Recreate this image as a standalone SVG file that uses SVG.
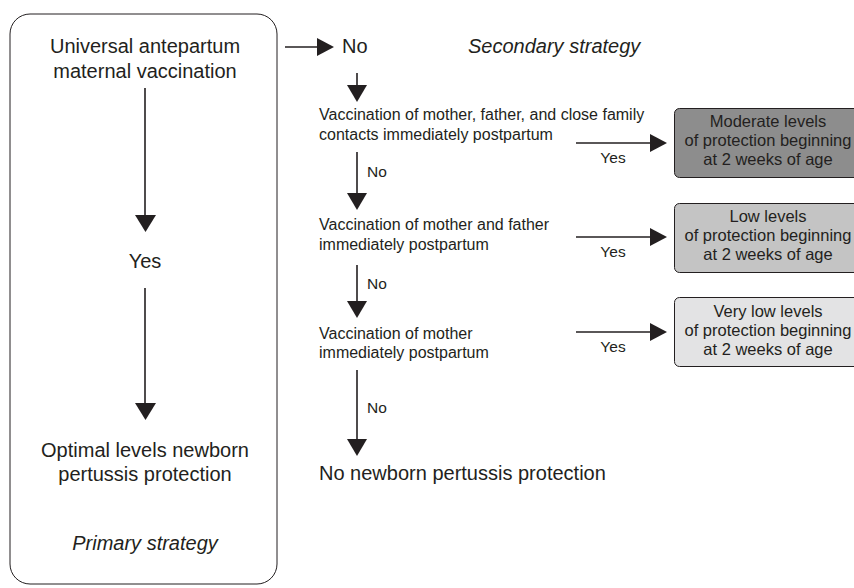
<svg xmlns="http://www.w3.org/2000/svg" width="854" height="588" viewBox="0 0 854 588">
<defs>
<style>
text{font-family:"Liberation Sans",Arial,sans-serif;fill:#231f20}
.big{font-size:20px}
.sm{font-size:16px}
.bx{font-size:16.5px}
.lb{font-size:15.5px}
.c{text-anchor:middle}
.it{font-style:italic}
.ln{stroke:#231f20;stroke-width:1.6;fill:none}
.hd{fill:#231f20}
.box{stroke:#231f20;stroke-width:1}
</style>
</defs>
<rect width="854" height="588" fill="#fff"/>

<g id="primary">
<rect x="10" y="14" width="267" height="570" rx="20" ry="20" fill="none" stroke="#231f20" stroke-width="1"/>
<text class="big c" x="145" y="53">Universal antepartum</text>
<text class="big c" x="145" y="78">maternal vaccination</text>
<text class="big c" x="145" y="268">Yes</text>
<text class="big c" x="145" y="457">Optimal levels newborn</text>
<text class="big c" x="145" y="481">pertussis protection</text>
<text class="big c it" x="145" y="550">Primary strategy</text>
</g>

<g id="secondary-labels">
<text class="big" x="342" y="53">No</text>
<text class="big it" x="468" y="53">Secondary strategy</text>
</g>

<g id="step1">
<text class="sm" x="319" y="120">Vaccination of mother, father, and close family</text>
<text class="sm" x="319" y="140">contacts immediately postpartum</text>
</g>
<g id="step2">
<text class="sm" x="319" y="230">Vaccination of mother and father</text>
<text class="sm" x="319" y="250">immediately postpartum</text>
</g>
<g id="step3">
<text class="sm" x="319" y="339">Vaccination of mother</text>
<text class="sm" x="319" y="358">immediately postpartum</text>
</g>
<g id="none">
<text class="big" x="319" y="480">No newborn pertussis protection</text>
</g>

<g id="out1">
<rect class="box" x="674.500" y="108.500" width="190" height="69" rx="5" fill="#8d8d8d"/>
<text class="bx c" x="768" y="127">Moderate levels</text>
<text class="bx c" x="768" y="146">of protection beginning</text>
<text class="bx c" x="768" y="165">at 2 weeks of age</text>
</g>
<g id="out2">
<rect class="box" x="674.500" y="203.500" width="190" height="69" rx="5" fill="#c4c4c4"/>
<text class="bx c" x="768" y="222">Low levels</text>
<text class="bx c" x="768" y="241">of protection beginning</text>
<text class="bx c" x="768" y="260">at 2 weeks of age</text>
</g>
<g id="out3">
<rect class="box" x="674.500" y="297.500" width="190" height="69" rx="5" fill="#e3e3e4"/>
<text class="bx c" x="768" y="317">Very low levels</text>
<text class="bx c" x="768" y="336">of protection beginning</text>
<text class="bx c" x="768" y="355">at 2 weeks of age</text>
</g>

<g id="connectors">
<line class="ln" x1="145" y1="88" x2="145" y2="216"/>
<path class="hd" d="M135,215 L156,215 L145.5,232 Z"/>
<line class="ln" x1="145" y1="288" x2="145" y2="404"/>
<path class="hd" d="M135,403 L156,403 L145.5,420 Z"/>

<line class="ln" x1="285" y1="47" x2="318" y2="47"/>
<path class="hd" d="M317,38 L334,47 L317,56 Z"/>

<line class="ln" x1="357" y1="73" x2="357" y2="86"/>
<path class="hd" d="M347,85 L367,85 L357,102 Z"/>

<line class="ln" x1="357" y1="152" x2="357" y2="194"/>
<path class="hd" d="M347,193 L367,193 L357,210 Z"/>
<text class="lb" x="367" y="177">No</text>

<line class="ln" x1="357" y1="265" x2="357" y2="302"/>
<path class="hd" d="M347,301 L367,301 L357,318 Z"/>
<text class="lb" x="367" y="289">No</text>

<line class="ln" x1="357" y1="370" x2="357" y2="440"/>
<path class="hd" d="M347,439 L367,439 L357,456 Z"/>
<text class="lb" x="367" y="413">No</text>

<line class="ln" x1="576" y1="143" x2="651" y2="143"/>
<path class="hd" d="M650,134 L667,143 L650,152 Z"/>
<text class="lb c" x="613" y="163">Yes</text>

<line class="ln" x1="576" y1="237" x2="651" y2="237"/>
<path class="hd" d="M650,228 L667,237 L650,246 Z"/>
<text class="lb c" x="613" y="257">Yes</text>

<line class="ln" x1="576" y1="332" x2="651" y2="332"/>
<path class="hd" d="M650,323 L667,332 L650,341 Z"/>
<text class="lb c" x="613" y="352">Yes</text>
</g>
</svg>
